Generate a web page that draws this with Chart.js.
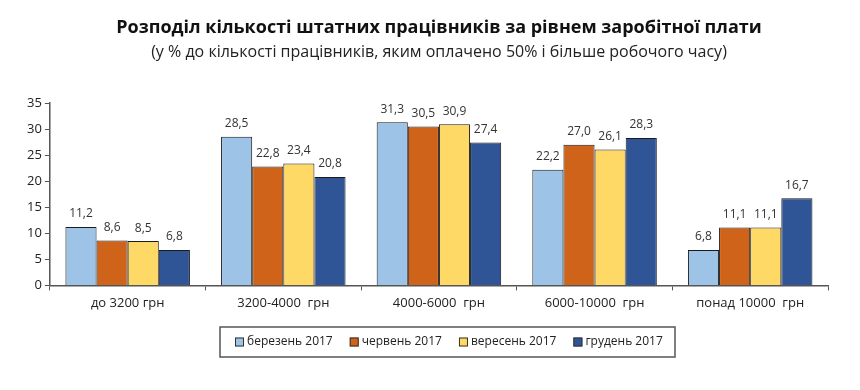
<!DOCTYPE html>
<html>
<head>
<meta charset="utf-8">
<script src="https://cdn.jsdelivr.net/npm/chart.js@4/dist/chart.umd.min.js"></script>
<style>
  html, body { margin: 0; padding: 0; background: #fff; }
  #wrap { width: 860px; height: 390px; }
</style>
</head>
<body>
<div id="wrap"><canvas id="c" width="860" height="390"></canvas></div>
<script>
const categories = ['до 3200 грн', '3200-4000  грн', '4000-6000  грн', '6000-10000  грн', 'понад 10000  грн'];
const seriesNames = ['березень 2017', 'червень 2017', 'вересень 2017', 'грудень 2017'];
const mar2017 = [11.2, 28.5, 31.3, 22.2, 6.8];
const jun2017 = [8.6, 22.8, 30.5, 27.0, 11.1];
const sep2017 = [8.5, 23.4, 30.9, 26.1, 11.1];
const dec2017 = [6.8, 20.8, 27.4, 28.3, 16.7];
const yTicks = [0, 5, 10, 15, 20, 25, 30, 35];
const colors = ['#9dc3e6', '#d0631a', '#ffd966', '#2f5597'];
const titleText = 'Розподіл кількості штатних працівників за рівнем заробітної плати';
const subtitleText = '(у % до кількості працівників, яким оплачено 50% і більше робочого часу)';

const fontFam = "'Open Sans', 'DejaVu Sans', sans-serif";
const fmt = v => v.toFixed(1).replace('.', ',');

// titles, centred a little right of the canvas middle like the source
const titles = {
  id: 'titles',
  afterDraw(chart) {
    const cx = chart.ctx;
    cx.save();
    cx.textAlign = 'center';
    cx.textBaseline = 'middle';
    cx.fillStyle = '#111';
    cx.font = 'bold 18px ' + fontFam;
    cx.fillText(titleText, 439, 28);
    cx.fillStyle = '#222';
    cx.font = '16px ' + fontFam;
    cx.fillText(subtitleText, 439, 52);
    cx.restore();
  }
};

// value labels over each bar
const barLabels = {
  id: 'barLabels',
  afterDatasetsDraw(chart) {
    const cx = chart.ctx;
    cx.save();
    cx.font = '12px ' + fontFam;
    cx.fillStyle = '#333';
    cx.textAlign = 'center';
    cx.textBaseline = 'bottom';
    chart.data.datasets.forEach((ds, i) => {
      chart.getDatasetMeta(i).data.forEach((bar, j) => {
        cx.fillText(fmt(ds.data[j]), bar.x, bar.y - 7);
      });
    });
    cx.restore();
  }
};

// boxed legend under the plot
const boxLegend = {
  id: 'boxLegend',
  afterDraw(chart) {
    const cx = chart.ctx;
    const box = { l: 220, t: 327, w: 455, h: 30 };
    cx.save();
    cx.strokeStyle = '#555';
    cx.lineWidth = 1.5;
    cx.strokeRect(box.l, box.t, box.w, box.h);
    cx.font = '12px ' + fontFam;
    cx.textBaseline = 'middle';
    const my = box.t + box.h / 2;
    let x = 235;
    chart.data.datasets.forEach(ds => {
      cx.fillStyle = ds.backgroundColor;
      cx.fillRect(x, my - 4.5, 9, 9);
      cx.strokeStyle = '#333';
      cx.lineWidth = 1;
      cx.strokeRect(x + 0.5, my - 4, 8, 8);
      cx.fillStyle = '#222';
      cx.fillText(ds.label, x + 12, my);
      x += 12 + cx.measureText(ds.label).width + 17;
    });
    cx.restore();
  }
};

const datasets = [mar2017, jun2017, sep2017, dec2017].map((d, i) => ({
  label: seriesNames[i],
  data: d,
  backgroundColor: colors[i],
  borderColor: '#1a1a1a',
  borderWidth: 1,
  borderSkipped: 'bottom',
  barPercentage: 1,
  categoryPercentage: 0.8
}));

new Chart(document.getElementById('c'), {
  type: 'bar',
  data: { labels: categories, datasets },
  plugins: [titles, barLabels, boxLegend],
  options: {
    responsive: false,
    animation: false,
    layout: { padding: { left: 24, right: 32, top: 103, bottom: 74 } },
    plugins: {
      title: { display: false },
      legend: { display: false },
      tooltip: { enabled: false }
    },
    scales: {
      x: {
        grid: { display: true, drawOnChartArea: false, offset: true, color: '#555', tickLength: 5 },
        border: { color: '#555', width: 1.5 },
        ticks: { color: '#222', font: { family: fontFam, size: 13 }, padding: 5 }
      },
      y: {
        min: 0,
        max: 35,
        afterBuildTicks: ax => { ax.ticks = yTicks.map(v => ({ value: v })); },
        grid: { display: true, drawOnChartArea: false, color: '#555', tickLength: 5 },
        border: { color: '#555', width: 1.5 },
        ticks: { color: '#222', font: { family: fontFam, size: 13 }, padding: 3 }
      }
    }
  }
});
</script>
</body>
</html>
